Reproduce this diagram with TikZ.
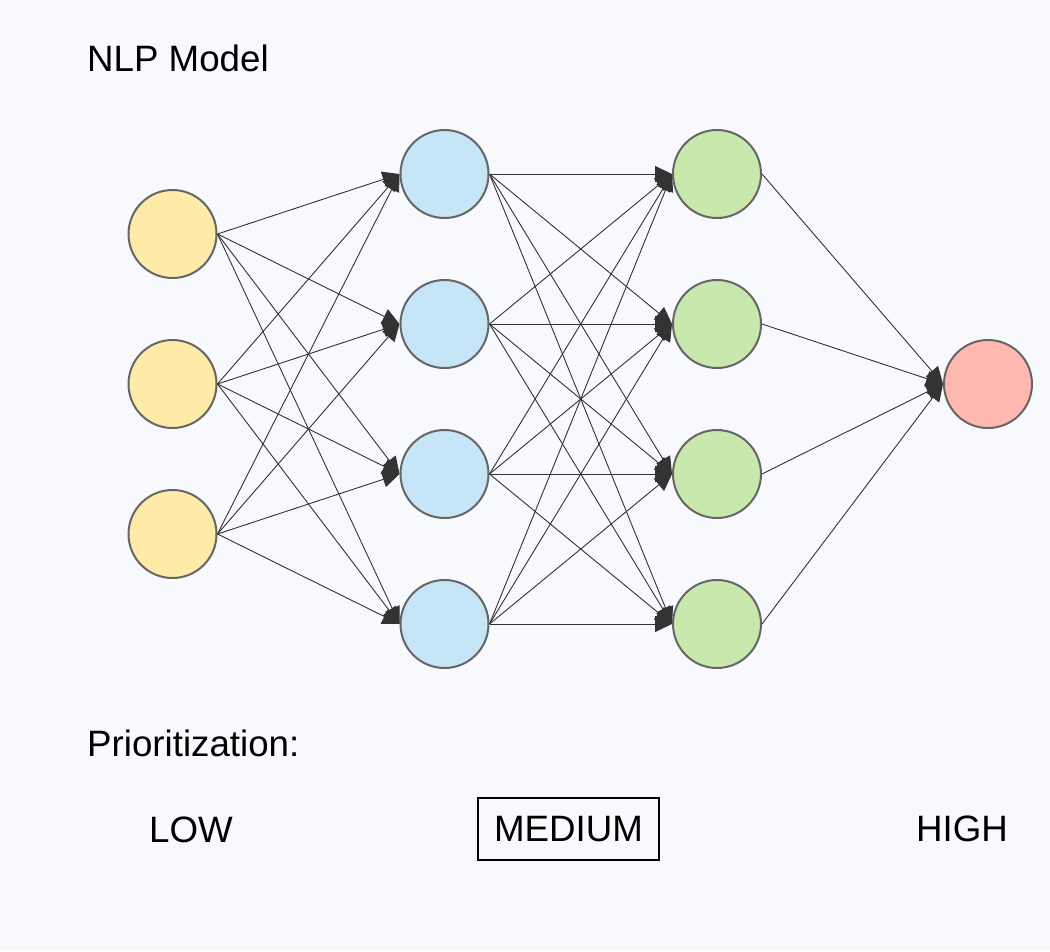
\documentclass[tikz,border=0pt]{standalone}
\usepackage{fontspec}
\setmainfont{Liberation Sans}
\usetikzlibrary{arrows.meta}
\definecolor{bg}{HTML}{F8F9FD}
\definecolor{cyel}{HTML}{FFEBA8}
\definecolor{cblu}{HTML}{C6E5F7}
\definecolor{cgrn}{HTML}{C8E8AE}
\definecolor{cred}{HTML}{FFB8B0}
\definecolor{cbord}{HTML}{666666}
\definecolor{cedge}{HTML}{333333}
\begin{document}
\begin{tikzpicture}[x=1pt,y=-1pt,
  neuron/.style={circle,draw=cbord,line width=2pt,minimum size=88pt,inner sep=0pt},
  conn/.style={draw=cedge,line width=0.9pt,-{Triangle[length=17pt,width=16pt]}},
  lbl/.style={font=\fontsize{36.7}{44}\selectfont,inner sep=0pt}]
\fill[bg] (0,0) rectangle (1050,951);
\useasboundingbox (0,0) rectangle (1050,951);
\foreach \i/\y in {1/234,2/384,3/534}
  \node[neuron,fill=cyel] (y\i) at (172.5,\y) {};
\foreach \i/\y in {1/174,2/324,3/474,4/624}{
  \node[neuron,fill=cblu] (b\i) at (444.5,\y) {};
  \node[neuron,fill=cgrn] (g\i) at (717,\y) {};}
\node[neuron,fill=cred] (r) at (988,384) {};
\foreach \i in {1,2,3}\foreach \j in {1,2,3,4}
  \draw[conn] (y\i.east) -- (b\j.west);
\foreach \i in {1,2,3,4}\foreach \j in {1,2,3,4}
  \draw[conn] (b\i.east) -- (g\j.west);
\foreach \i in {1,2,3,4}
  \draw[conn] (g\i.east) -- (r.west);
\node[lbl,anchor=base west] (title) at (87,71) {NLP Model};
\node[lbl,anchor=base west] (prio) at (87,756) {Prioritization:};
\node[lbl,anchor=base] (low) at (191,842) {LOW};
\node[lbl,draw=black,line width=1.5pt,minimum width=181pt,minimum height=62pt] (med) at (568.5,829) {MEDIUM};
\node[lbl,anchor=base] (high) at (962,841) {HIGH};
\end{tikzpicture}
\end{document}
